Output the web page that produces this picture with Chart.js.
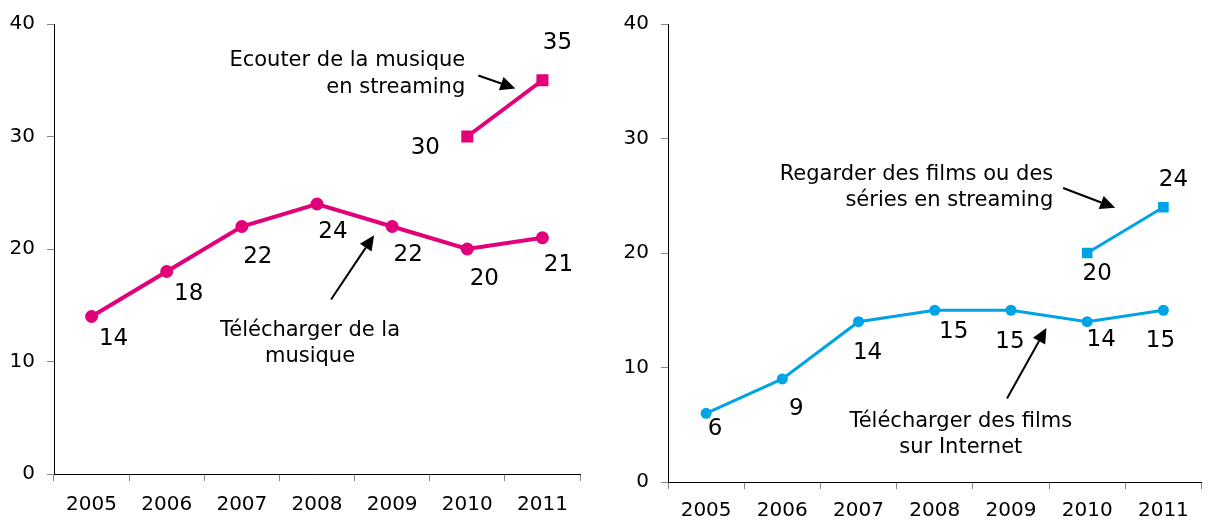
<!DOCTYPE html>
<html><head><meta charset="utf-8">
<script src="https://cdn.jsdelivr.net/npm/chart.js@4/dist/chart.umd.min.js"></script>
<style>
body{margin:0;background:#fff;width:1209px;height:523px;overflow:hidden;position:relative;font-family:"DejaVu Sans",sans-serif}
.w{position:absolute;top:0;height:523px}
</style>
</head><body>
<div class="w" style="left:0;width:600px"><canvas id="c1"></canvas></div>
<div class="w" style="left:600px;width:609px"><canvas id="c2"></canvas></div>
<script>
// ---- data ----
const years = ['2005','2006','2007','2008','2009','2010','2011'];
const musicDownload  = [14, 18, 22, 24, 22, 20, 21];
const musicStreaming = [null, null, null, null, null, 30, 35];
const filmsDownload  = [6, 9, 14, 15, 15, 14, 15];
const filmsStreaming = [null, null, null, null, null, 20, 24];
const yTickValues = [0, 10, 20, 30, 40];

// ---- label placement (pixel offsets from each point) ----
const musicDownloadOff  = [[22,23],[22,23],[16,31],[16,28],[16,29],[17,30],[16,27]];
const musicStreamingOff = [null,null,null,null,null,[-42,12],[15,-37]];
const filmsDownloadOff  = [[9,16],[14,30],[9,31],[19,22],[-1,32],[14,18],[-3,31]];
const filmsStreamingOff = [null,null,null,null,null,[10,21],[10,-27]];

const MAGENTA = '#E2007A';
const CYAN = '#00A3E4';
const FONT = '"DejaVu Sans", Verdana, sans-serif';

const labelPlugin = {
  id: 'pointLabels',
  afterDatasetsDraw(chart) {
    const ctx = chart.ctx;
    ctx.save();
    ctx.font = '23px ' + FONT;
    ctx.fillStyle = '#000';
    ctx.textAlign = 'center';
    ctx.textBaseline = 'middle';
    chart.data.datasets.forEach((ds, di) => {
      const meta = chart.getDatasetMeta(di);
      ds.data.forEach((v, i) => {
        if (v === null) return;
        const p = meta.data[i];
        const off = ds.labelOffsets[i] || [0, 0];
        ctx.fillText(String(v), p.x + off[0], p.y + off[1]);
      });
    });
    ctx.restore();
  }
};

const annotPlugin = {
  id: 'annots',
  afterDraw(chart) {
    const a = chart.options.plugins.annots;
    if (!a) return;
    const xs = chart.scales.x, ys = chart.scales.y, ctx = chart.ctx;
    const X = v => xs.getPixelForValue(v), Y = v => ys.getPixelForValue(v);
    ctx.save();
    ctx.font = '21px ' + FONT;
    ctx.fillStyle = '#000';
    ctx.textBaseline = 'middle';
    (a.texts || []).forEach(t => {
      ctx.textAlign = t.align;
      ctx.fillText(t.text, X(t.x), Y(t.y));
    });
    (a.arrows || []).forEach(ar => {
      const x1 = X(ar.from[0]), y1 = Y(ar.from[1]), x2 = X(ar.to[0]), y2 = Y(ar.to[1]);
      const ang = Math.atan2(y2 - y1, x2 - x1);
      const hl = 15, hw = 7;
      const bx = x2 - hl * Math.cos(ang), by = y2 - hl * Math.sin(ang);
      ctx.strokeStyle = '#000'; ctx.lineWidth = 2;
      ctx.beginPath(); ctx.moveTo(x1, y1); ctx.lineTo(bx, by); ctx.stroke();
      ctx.fillStyle = '#000';
      ctx.beginPath();
      ctx.moveTo(x2, y2);
      ctx.lineTo(bx + hw * Math.sin(ang), by - hw * Math.cos(ang));
      ctx.lineTo(bx - hw * Math.sin(ang), by + hw * Math.cos(ang));
      ctx.closePath(); ctx.fill();
    });
    ctx.restore();
  }
};

function makeChart(id, cfg) {
  return new Chart(document.getElementById(id), {
    type: 'line',
    data: {
      labels: years,
      datasets: [
        { data: cfg.main, labelOffsets: cfg.mainOff, borderColor: cfg.color, backgroundColor: cfg.color,
          borderWidth: cfg.lw, pointRadius: cfg.pr, pointHoverRadius: cfg.pr, pointBorderWidth: 0,
          pointStyle: 'circle', tension: 0, spanGaps: false },
        { data: cfg.stream, labelOffsets: cfg.streamOff, borderColor: cfg.color, backgroundColor: cfg.color,
          borderWidth: cfg.lw, pointRadius: cfg.sr, pointHoverRadius: cfg.sr, pointBorderWidth: 0,
          pointStyle: 'rect', tension: 0, spanGaps: false }
      ]
    },
    options: {
      responsive: true, maintainAspectRatio: false, animation: false,
      layout: { padding: cfg.padding },
      plugins: { legend: { display: false }, tooltip: { enabled: false }, annots: cfg.annots },
      scales: {
        x: {
          type: 'category', offset: true,
          grid: { offset: true, drawOnChartArea: false, drawTicks: true, tickLength: 7, color: '#888' },
          border: { display: true, color: '#000', width: 1 },
          ticks: { color: '#000', font: { family: FONT, size: 20 }, padding: cfg.xpad, maxRotation: 0, autoSkip: false },
          afterFit: s => { s.height = cfg.xh; }
        },
        y: {
          min: 0, max: 40,
          afterBuildTicks: s => { s.ticks = yTickValues.map(v => ({ value: v })); },
          grid: { drawOnChartArea: false, drawTicks: true, tickLength: 7, color: '#888' },
          border: { display: true, color: '#000', width: 1 },
          ticks: { color: '#000', font: { family: FONT, size: 20 }, padding: 12 },
          afterFit: s => { s.width = cfg.yw; }
        }
      }
    },
    plugins: [labelPlugin, annotPlugin]
  });
}

makeChart('c1', {
  main: musicDownload, mainOff: musicDownloadOff,
  stream: musicStreaming, streamOff: musicStreamingOff,
  color: MAGENTA, lw: 4, pr: 6.5, sr: 8.5,
  yw: 54, xh: 49, xpad: 12, padding: { top: 18, right: 20, bottom: 0, left: 0 },
  annots: {
    texts: [
      { text: 'Ecouter de la musique', x: 4.973, y: 36.74, align: 'right' },
      { text: 'en streaming', x: 4.973, y: 34.36, align: 'right' },
      { text: 'Télécharger de la', x: 2.907, y: 12.78, align: 'center' },
      { text: 'musique', x: 2.907, y: 10.48, align: 'center' }
    ],
    arrows: [
      { from: [5.147, 35.42], to: [5.64, 34.27] },
      { from: [3.187, 15.51], to: [3.76, 21.23] }
    ]
  }
});

makeChart('c2', {
  main: filmsDownload, mainOff: filmsDownloadOff,
  stream: filmsStreaming, streamOff: filmsStreamingOff,
  color: CYAN, lw: 3, pr: 5.5, sr: 7.5,
  yw: 68, xh: 41, xpad: 10, padding: { top: 20, right: 0, bottom: 0, left: 0 },
  annots: {
    texts: [
      { text: 'Regarder des films ou des', x: 4.555, y: 26.81, align: 'right' },
      { text: 'séries en streaming', x: 4.555, y: 24.56, align: 'right' },
      { text: 'Télécharger des films', x: 3.342, y: 5.29, align: 'center' },
      { text: 'sur Internet', x: 3.342, y: 3.04, align: 'center' }
    ],
    arrows: [
      { from: [4.684, 25.68], to: [5.368, 23.95] },
      { from: [3.948, 7.29], to: [4.465, 13.45] }
    ]
  }
});
</script>
</body></html>
